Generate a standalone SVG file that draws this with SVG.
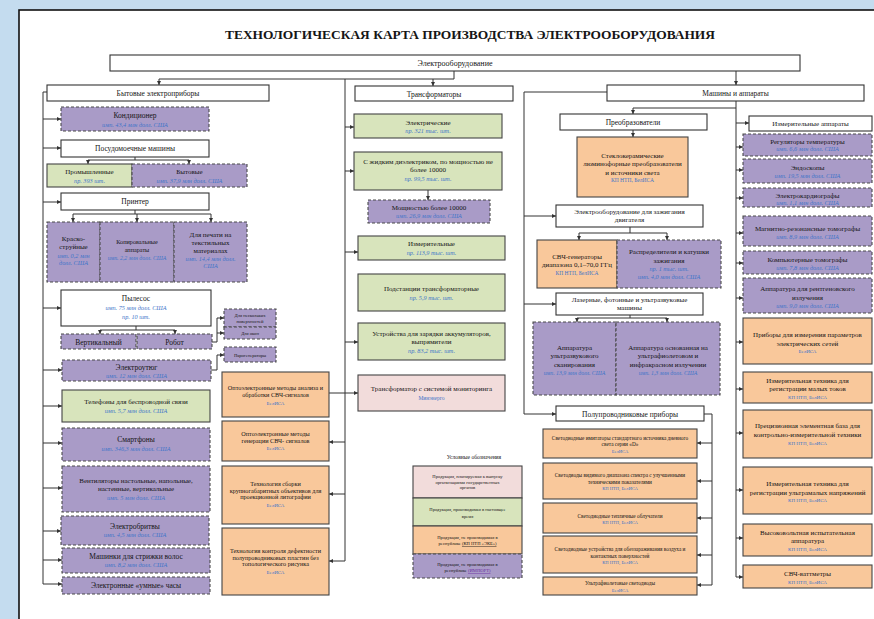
<svg xmlns="http://www.w3.org/2000/svg" width="874" height="619" viewBox="0 0 874 619">
<defs>
<marker id="a" viewBox="0 0 6 6" refX="6" refY="3" markerWidth="4" markerHeight="4" orient="auto"><path d="M0,0 L6,3 L0,6 z" fill="#333"/></marker>
<style>
.b{fill:#fff;stroke:#333;stroke-width:1.1}
.p{fill:#a99bc7;stroke:#4a4a4a;stroke-width:1.1;stroke-dasharray:3 2}
.g{fill:#d8e4bc;stroke:#444;stroke-width:1.1}
.o{fill:#f9c89b;stroke:#444;stroke-width:1.1}
.k{fill:#f2dcdb;stroke:#444;stroke-width:1.1}
text{font-family:"Liberation Serif","Times New Roman",serif;fill:#151515;text-anchor:middle}
.t{font-size:7.5px}
.m{font-size:7px}
.n{font-size:6.2px}
.q{font-size:5.3px}
.x{font-size:4.6px}
.s{font-size:6.2px;fill:#3d74c9;font-style:italic}
.sb{font-size:5px;fill:#3d74c9}
.c{fill:none;stroke:#333;stroke-width:1}
</style>
</defs>
<rect x="0" y="0" width="874" height="619" fill="#c4dcef"/>
<rect x="19" y="10" width="900" height="700" fill="#fff" stroke="#111" stroke-width="1.6"/>
<text x="470" y="38.5" style="font-size:13.5px;font-weight:bold" textLength="490" lengthAdjust="spacingAndGlyphs">ТЕХНОЛОГИЧЕСКАЯ КАРТА ПРОИЗВОДСТВА ЭЛЕКТРООБОРУДОВАНИЯ</text>

<g id="connectors">
<path class="c" d="M454,71 V79 H159 V85" marker-end="url(#a)"/>
<path class="c" d="M345,79 V561"/>
<path class="c" d="M433,79 V86" marker-end="url(#a)"/>
<path class="c" d="M736,71 V85" marker-end="url(#a)"/>
<path class="c" d="M607,92 H524 V414 H556" marker-end="url(#a)"/>
<path class="c" d="M524,216 H556" marker-end="url(#a)"/>
<path class="c" d="M524,304 H556" marker-end="url(#a)"/>
<path class="c" d="M47,92 H43 V584"/>
<path class="c" d="M43,119 H61" marker-end="url(#a)"/>
<path class="c" d="M43,148 H61" marker-end="url(#a)"/>
<path class="c" d="M43,202 H61" marker-end="url(#a)"/>
<path class="c" d="M43,308 H61" marker-end="url(#a)"/>
<path class="c" d="M43,370 H62" marker-end="url(#a)"/>
<path class="c" d="M43,406 H62" marker-end="url(#a)"/>
<path class="c" d="M43,443 H62" marker-end="url(#a)"/>
<path class="c" d="M43,488 H62" marker-end="url(#a)"/>
<path class="c" d="M43,531 H61" marker-end="url(#a)"/>
<path class="c" d="M43,560 H62" marker-end="url(#a)"/>
<path class="c" d="M43,584 H62" marker-end="url(#a)"/>
<path class="c" d="M135,157 V160 H88 V164" marker-end="url(#a)"/>
<path class="c" d="M135,160 H189 V164" marker-end="url(#a)"/>
<path class="c" d="M135,210 V214 H73 V222" marker-end="url(#a)"/>
<path class="c" d="M135,214 H211 V222" marker-end="url(#a)"/>
<path class="c" d="M137,214 V222" marker-end="url(#a)"/>
<path class="c" d="M136,326 V330 H100 V334" marker-end="url(#a)"/>
<path class="c" d="M136,330 H175 V334" marker-end="url(#a)"/>
<path class="c" d="M212,342 H217 V318 H224" marker-end="url(#a)"/>
<path class="c" d="M217,333 H224" marker-end="url(#a)"/>
<path class="c" d="M211,370 H217 V355 H224" marker-end="url(#a)"/>
<path class="c" d="M345,127 H354" marker-end="url(#a)"/>
<path class="c" d="M345,171 H354" marker-end="url(#a)"/>
<path class="c" d="M428,190 V200" marker-end="url(#a)"/>
<path class="c" d="M345,252 H358" marker-end="url(#a)"/>
<path class="c" d="M345,342 H358" marker-end="url(#a)"/>
<path class="c" d="M329,393 H358" marker-end="url(#a)"/>
<path class="c" d="M345,442 H329" marker-end="url(#a)"/>
<path class="c" d="M345,494 H329" marker-end="url(#a)"/>
<path class="c" d="M345,561 H329" marker-end="url(#a)"/>
<path class="c" d="M736,101 V108 H633 V114" marker-end="url(#a)"/>
<path class="c" d="M633,130 V137" marker-end="url(#a)"/>
<path class="c" d="M736,108 V577"/>
<path class="c" d="M736,123 H749" marker-end="url(#a)"/>
<path class="c" d="M736,147 H743" marker-end="url(#a)"/>
<path class="c" d="M736,170 H743" marker-end="url(#a)"/>
<path class="c" d="M736,198 H743" marker-end="url(#a)"/>
<path class="c" d="M736,233 H743" marker-end="url(#a)"/>
<path class="c" d="M736,263 H743" marker-end="url(#a)"/>
<path class="c" d="M736,298 H743" marker-end="url(#a)"/>
<path class="c" d="M736,342 H743" marker-end="url(#a)"/>
<path class="c" d="M736,389 H743" marker-end="url(#a)"/>
<path class="c" d="M736,433 H743" marker-end="url(#a)"/>
<path class="c" d="M736,490 H743" marker-end="url(#a)"/>
<path class="c" d="M736,538 H743" marker-end="url(#a)"/>
<path class="c" d="M736,577 H743" marker-end="url(#a)"/>
<path class="c" d="M630,227 V233 H579 V240" marker-end="url(#a)"/>
<path class="c" d="M630,233 H667 V240" marker-end="url(#a)"/>
<path class="c" d="M630,315 V318 H577 V322" marker-end="url(#a)"/>
<path class="c" d="M630,318 H667 V322" marker-end="url(#a)"/>
<path class="c" d="M704,414 H712 V585"/>
<path class="c" d="M712,443 H697" marker-end="url(#a)"/>
<path class="c" d="M712,481 H697" marker-end="url(#a)"/>
<path class="c" d="M712,518 H697" marker-end="url(#a)"/>
<path class="c" d="M712,555 H697" marker-end="url(#a)"/>
<path class="c" d="M712,585 H697" marker-end="url(#a)"/>
</g>

<g id="root"><rect class="b" x="110" y="55" width="690" height="16"/><text x="455" y="66" style="font-size:8px">Электрооборудование</text></g>

<g id="household"><rect class="b" x="47" y="85" width="222" height="16"/><text class="t" x="158" y="96">Бытовые электроприборы</text></g>
<g id="conditioner"><rect class="p" x="61" y="107" width="148" height="24"/><text class="t" x="135" y="117.5">Кондиционер</text><text class="s" x="135" y="126.5">имп. 43,4 млн долл. США</text></g>
<g id="dishwasher"><rect class="b" x="61" y="140" width="148" height="17"/><text class="t" x="135" y="151">Посудомоечные машины</text></g>
<g id="dw-industrial"><rect class="g" x="47" y="164" width="85" height="23"/><text class="m" x="89.5" y="174">Промышленные</text><text class="s" x="89.5" y="182.5">пр. 393 шт.</text></g>
<g id="dw-home"><rect class="p" x="132" y="164" width="115" height="23"/><text class="m" x="189.5" y="174">Бытовые</text><text class="s" x="189.5" y="182.5">имп. 37,9 млн долл. США</text></g>
<g id="printer"><rect class="b" x="61" y="193" width="148" height="17"/><text class="t" x="135" y="204">Принтер</text></g>
<g id="inkjet"><rect class="p" x="47" y="222" width="53" height="60"/><text class="m" x="73.5" y="241">Краско-</text><text class="m" x="73.5" y="249">струйные</text><text class="s" x="73.5" y="257.5">имп. 0,2 млн</text><text class="s" x="73.5" y="265">долл. США</text></g>
<g id="copier"><rect class="p" x="100" y="222" width="74" height="60"/><text class="n" x="137" y="244">Копировальные</text><text class="n" x="137" y="251.5">аппараты</text><text class="s" x="137" y="259.5" style="font-size:5.8px">имп. 2,2 млн долл. США</text></g>
<g id="textile"><rect class="p" x="174" y="222" width="73" height="60"/><text class="m" x="210.5" y="236.5">Для печати на</text><text class="m" x="210.5" y="244.5">текстильных</text><text class="m" x="210.5" y="252.5">материалах</text><text class="s" x="210.5" y="260.5">имп. 14,4 млн долл.</text><text class="s" x="210.5" y="268">США</text></g>
<g id="vacuum"><rect class="b" x="61" y="290" width="150" height="36"/><text class="t" x="136" y="301">Пылесос</text><text class="s" x="136" y="310">имп. 75 млн долл. США</text><text class="s" x="136" y="318.5">пр. 10 шт.</text></g>
<g id="vertical"><rect class="p" x="61" y="334" width="75" height="15"/><text class="t" x="98.5" y="344.5">Вертикальный</text></g>
<g id="robot"><rect class="p" x="137" y="334" width="75" height="15"/><text class="t" x="174.5" y="344.5">Робот</text></g>
<g id="multi-surface"><rect class="p" x="224" y="309" width="52" height="18"/><text class="x" x="250" y="316.5">Для нескольких</text><text class="x" x="250" y="322.5">поверхностей</text></g>
<g id="windows"><rect class="p" x="224" y="327" width="52" height="12"/><text class="x" x="250" y="334.5">Для окон</text></g>
<g id="steam"><rect class="p" x="224" y="347" width="52" height="15"/><text class="x" x="250" y="356.5">Парогенераторы</text></g>
<g id="iron"><rect class="p" x="62" y="360" width="149" height="21"/><text class="t" x="136.5" y="369.5">Электроутюг</text><text class="s" x="136.5" y="378">имп. 12 млн долл. США</text></g>
<g id="phones"><rect class="g" x="62" y="390" width="148" height="32"/><text class="m" x="136" y="404">Телефоны  для беспроводной связи</text><text class="s" x="136" y="413">имп. 5,7 млн долл. США</text></g>
<g id="smartphones"><rect class="p" x="62" y="428" width="148" height="33"/><text class="t" x="136" y="442">Смартфоны</text><text class="s" x="136" y="450.5">имп. 346,3 млн долл. США</text></g>
<g id="fans"><rect class="p" x="62" y="466" width="148" height="46"/><text class="m" x="136" y="483">Вентиляторы настольные, напольные,</text><text class="m" x="136" y="491">настенные, вертикальные</text><text class="s" x="136" y="499.5">имп. 5 млн долл. США</text></g>
<g id="shavers"><rect class="p" x="61" y="516" width="148" height="29"/><text class="t" x="135" y="528.5">Электробритвы</text><text class="s" x="135" y="537">имп. 4,5 млн долл. США</text></g>
<g id="clippers"><rect class="p" x="62" y="548" width="148" height="25"/><text class="t" x="136" y="558.5">Машинки для стрижки волос</text><text class="s" x="136" y="567">имп. 8,2 млн долл. США</text></g>
<g id="watches"><rect class="p" x="62" y="577" width="148" height="17"/><text class="t" x="136" y="588">Электронные «умные» часы</text></g>

<g id="opto1"><rect class="o" x="222" y="372" width="107" height="45"/><text class="n" x="275.5" y="390">Оптоэлектронные методы анализа и</text><text class="n" x="275.5" y="396.5">обработки СВЧ-сигналов</text><text class="sb" x="275.5" y="404.5">БелИСА</text></g>
<g id="opto2"><rect class="o" x="222" y="421" width="107" height="40"/><text class="n" x="275.5" y="435.5">Оптоэлектронные методы</text><text class="n" x="275.5" y="442.5">генерации СВЧ- сигналов</text><text class="sb" x="275.5" y="450">БелИСА</text></g>
<g id="litho"><rect class="o" x="222" y="466" width="107" height="58"/><text class="n" x="275.5" y="486">Технология сборки</text><text class="n" x="275.5" y="492.5">крупногабаритных объективов для</text><text class="n" x="275.5" y="499">проекционной литографии</text><text class="sb" x="275.5" y="507">БелИСА</text></g>
<g id="wafer"><rect class="o" x="222" y="528" width="107" height="67"/><text class="n" x="275.5" y="553">Технология контроля дефектности</text><text class="n" x="275.5" y="559.5">полупроводниковых пластин без</text><text class="n" x="275.5" y="566">топологического рисунка</text><text class="sb" x="275.5" y="574">БелИСА</text></g>

<g id="transformers"><rect class="b" x="355" y="86" width="158" height="15"/><text class="t" x="434" y="96.5">Трансформаторы</text></g>
<g id="electric"><rect class="g" x="354" y="114" width="148" height="24"/><text class="m" x="428" y="124.5">Электрические</text><text class="s" x="428" y="133">пр. 321 тыс. шт.</text></g>
<g id="liquid"><rect class="g" x="354" y="152" width="148" height="38"/><text class="m" x="428" y="164">С жидким диэлектриком, по мощностью  не</text><text class="m" x="428" y="172">более 10000</text><text class="s" x="428" y="180.5">пр. 99,5 тыс. шт.</text></g>
<g id="over10000"><rect class="p" x="368" y="200" width="122" height="23"/><text class="m" x="429" y="209.5">Мощностью более 10000</text><text class="s" x="429" y="218">имп. 26,9 млн долл. США</text></g>
<g id="measuring-tr"><rect class="g" x="358" y="236" width="147" height="24"/><text class="m" x="431.5" y="246">Измерительные</text><text class="s" x="431.5" y="255">пр. 113,9 тыс. шт.</text></g>
<g id="substations"><rect class="g" x="358" y="274" width="147" height="37"/><text class="m" x="431.5" y="291">Подстанции трансформаторные</text><text class="s" x="431.5" y="299.5">пр. 5,9 тыс. шт.</text></g>
<g id="chargers"><rect class="g" x="358" y="323" width="147" height="37"/><text class="m" x="431.5" y="336">Устройства для зарядки аккумуляторов,</text><text class="m" x="431.5" y="344">выпрямители</text><text class="s" x="431.5" y="352.5">пр. 83,2 тыс. шт.</text></g>
<g id="monitoring"><rect class="k" x="358" y="375" width="147" height="36"/><text class="m" x="431.5" y="391">Трансформатор с системой мониторинга</text><text class="sb" x="431.5" y="399.5" style="font-size:5.5px">Минэнерго</text></g>

<g id="legend">
<text x="474" y="458.5" style="font-size:5.6px">Условные обозначения</text>
<rect class="k" x="413" y="466" width="109" height="32"/><text class="x" x="467.5" y="478">Продукция, планируемая к выпуску</text><text class="x" x="467.5" y="483.5">организациями государственных</text><text class="x" x="467.5" y="489">органов</text>
<rect class="g" x="413" y="498" width="109" height="28"/><text class="x" x="467.5" y="511">Продукция, производимая в настоящее</text><text class="x" x="467.5" y="517.5">время</text>
<rect class="o" x="413" y="526" width="109" height="28"/><text class="x" x="467.5" y="539">Продукция, не производимая в</text><text class="x" x="467.5" y="545">республике <tspan text-decoration="underline">(КП НТП «ЭКБ»)</tspan></text>
<rect class="p" x="413" y="554" width="109" height="24"/><text class="x" x="467.5" y="566">Продукция, не производимая в</text><text class="x" x="467.5" y="572">республике <tspan text-decoration="underline" fill="#6b2fa0">(ИМПОРТ)</tspan></text>
</g>

<g id="machines"><rect class="b" x="607" y="85" width="257" height="16"/><text class="t" x="735.5" y="96">Машины и аппараты</text></g>
<g id="converters"><rect class="b" x="560" y="114" width="147" height="16"/><text class="t" x="633" y="125">Преобразователи</text></g>
<g id="glass-ceramic"><rect class="o" x="577" y="137" width="111" height="60"/><text class="m" x="632.5" y="157.5">Стеклокерамические</text><text class="m" x="632.5" y="166">люминофорные преобразователи</text><text class="m" x="632.5" y="174.5">и источники света</text><text class="sb" x="632.5" y="181.5" style="font-size:5.5px">КП НТП, БелИСА</text></g>
<g id="ignition"><rect class="b" x="556" y="205" width="147" height="22"/><text class="m" x="629.5" y="214">Электрооборудование для зажигания</text><text class="m" x="629.5" y="222">двигателя</text></g>
<g id="microwave-gen"><rect class="o" x="537" y="240" width="80" height="48"/><text class="m" x="577" y="259">СВЧ-генераторы</text><text class="m" x="577" y="267">диапазона 0,1–70,0 ГГц</text><text class="sb" x="577" y="274.5" style="font-size:5.5px">КП НТП, БелИСА</text></g>
<g id="distributors"><rect class="p" x="617" y="240" width="104" height="48"/><text class="m" x="669" y="254">Распределители и катушки</text><text class="m" x="669" y="262.5">зажигания</text><text class="s" x="669" y="271">пр. 1 тыс. шт.</text><text class="s" x="669" y="278.5">имп. 4,0 млн долл. США</text></g>
<g id="laser"><rect class="b" x="556" y="293" width="147" height="22"/><text class="m" x="629.5" y="301.5">Лазерные, фотонные и ультразвуковые</text><text class="m" x="629.5" y="310">машины</text></g>
<g id="ultrasound"><rect class="p" x="533" y="322" width="83" height="73"/><text class="m" x="574.5" y="349.5">Аппаратура</text><text class="m" x="574.5" y="358">ультразвукового</text><text class="m" x="574.5" y="366.5">сканирования</text><text class="s" x="574.5" y="375" style="font-size:5.8px">имп. 13,9 млн долл. США</text></g>
<g id="uv-ir"><rect class="p" x="616" y="322" width="104" height="73"/><text class="m" x="668" y="349.5">Аппаратура основанная на</text><text class="m" x="668" y="358">ультрафиолетовом и</text><text class="m" x="668" y="366.5">инфракрасном излучении</text><text class="s" x="668" y="375" style="font-size:5.8px">имп. 1,3 млн долл. США</text></g>
<g id="semiconductors"><rect class="b" x="556" y="406" width="148" height="15"/><text class="t" x="630" y="416.5">Полупроводниковые приборы</text></g>
<g id="led-d"><rect class="o" x="543" y="429" width="154" height="29"/><text class="q" x="620" y="439.5">Светодиодные имитаторы стандартного источника дневного</text><text class="q" x="620" y="445.5">света серии «D»</text><text class="sb" x="620" y="453" style="font-size:4.6px">БелИСА</text></g>
<g id="led-visible"><rect class="o" x="543" y="463" width="154" height="36"/><text class="q" x="620" y="477">Светодиоды видимого диапазона спектра с улучшенными</text><text class="q" x="620" y="483.5">техническими показателями</text><text class="sb" x="620" y="490" style="font-size:4.6px">КП НТП, БелИСА</text></g>
<g id="led-green"><rect class="o" x="543" y="503" width="154" height="30"/><text class="q" x="620" y="518">Светодиодные тепличные облучатели</text><text class="sb" x="620" y="524" style="font-size:4.6px">КП НТП, БелИСА</text></g>
<g id="led-disinfect"><rect class="o" x="543" y="536" width="154" height="37"/><text class="q" x="620" y="551">Светодиодные устройства для обеззараживания воздуха и</text><text class="q" x="620" y="557.5">контактных поверхностей</text><text class="sb" x="620" y="564" style="font-size:4.6px">КП НТП, БелИСА</text></g>
<g id="led-uv"><rect class="o" x="543" y="577" width="154" height="18"/><text class="q" x="620" y="585">Ультрафиолетовые светодиоды</text><text class="sb" x="620" y="592" style="font-size:4.6px">БелИСА</text></g>

<g id="measuring"><rect class="b" x="749" y="116" width="123" height="15"/><text class="m" x="810.5" y="126">Измерительные аппараты</text></g>
<g id="thermo"><rect class="p" x="743" y="134" width="129" height="22"/><text class="m" x="807.5" y="143.5">Регуляторы температуры</text><text class="s" x="807.5" y="151">имп. 6,6 млн долл. США</text></g>
<g id="endoscopes"><rect class="p" x="743" y="159" width="129" height="24"/><text class="m" x="807.5" y="169.5">Эндоскопы</text><text class="s" x="807.5" y="177.5">имп. 19,5 млн долл. США</text></g>
<g id="ecg"><rect class="p" x="743" y="188" width="129" height="19"/><text class="m" x="807.5" y="198">Электрокардиографы</text><text class="s" x="807.5" y="205">имп. 1,1 млн долл. США</text></g>
<g id="mri"><rect class="p" x="743" y="216" width="129" height="30"/><text class="m" x="807.5" y="231">Магнитно-резонансные томографы</text><text class="s" x="807.5" y="239">имп. 8,9 млн долл. США</text></g>
<g id="ct"><rect class="p" x="743" y="251" width="129" height="23"/><text class="m" x="807.5" y="261.5">Компьютерные томографы</text><text class="s" x="807.5" y="269.5">имп. 7,8 млн долл. США</text></g>
<g id="xray"><rect class="p" x="743" y="278" width="129" height="35"/><text class="m" x="807.5" y="291">Аппаратура для рентгеновского</text><text class="m" x="807.5" y="300">излучения</text><text class="s" x="807.5" y="308">имп. 9,0 млн долл. США</text></g>
<g id="grid-meters"><rect class="o" x="743" y="318" width="129" height="46"/><text class="m" x="807.5" y="336.5">Приборы для измерения параметров</text><text class="m" x="807.5" y="345.5">электрических сетей</text><text class="sb" x="807.5" y="353">БелИСА</text></g>
<g id="small-currents"><rect class="o" x="743" y="372" width="129" height="31"/><text class="m" x="807.5" y="382.5">Измерительная техника для</text><text class="m" x="807.5" y="391">регистрации малых токов</text><text class="sb" x="807.5" y="398.5">КП НТП, БелИСА</text></g>
<g id="precision"><rect class="o" x="743" y="410" width="129" height="48"/><text class="m" x="807.5" y="428">Прецизионная элементная база для</text><text class="m" x="807.5" y="436.5">контрольно-измерительной техники</text><text class="sb" x="807.5" y="444.5">КП НТП, БелИСА</text></g>
<g id="ultralow"><rect class="o" x="743" y="467" width="129" height="47"/><text class="m" x="807.5" y="486">Измерительная техника для</text><text class="m" x="807.5" y="494.5">регистрации ультрамалых напряжений</text><text class="sb" x="807.5" y="502">КП НТП, БелИСА</text></g>
<g id="hv"><rect class="o" x="743" y="524" width="129" height="32"/><text class="m" x="807.5" y="534.5">Высоковольтная испытательная</text><text class="m" x="807.5" y="543">аппаратура</text><text class="sb" x="807.5" y="550.5">КП НТП, БелИСА</text></g>
<g id="wattmeters"><rect class="o" x="743" y="565" width="129" height="23"/><text class="m" x="807.5" y="576">СВЧ-ваттметры</text><text class="sb" x="807.5" y="583.5">КП НТП, БелИСА</text></g>
</svg>
